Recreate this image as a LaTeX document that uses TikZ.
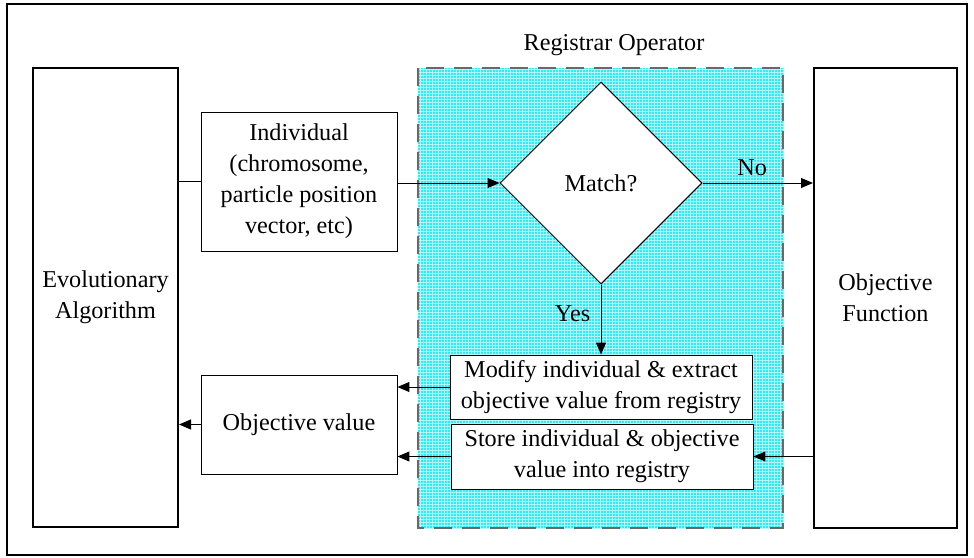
\documentclass[tikz,border=0pt]{standalone}
\usepackage{fontspec}
\setmainfont{Liberation Serif}
\newfontfamily\tnr{Liberation Serif}
\usetikzlibrary{shapes.geometric,arrows.meta}
\definecolor{regfill}{RGB}{45,236,246}
\definecolor{reggrid}{RGB}{175,248,251}
\definecolor{regborder}{RGB}{105,105,105}
\begin{document}
\begin{tikzpicture}[x=1pt,y=-1pt,
  every node/.style={font=\tnr\fontsize{24.2}{31}\selectfont},
  box/.style={draw, line width=0.9pt, align=center, inner sep=0pt, fill=white},
  bigbox/.style={draw, line width=2pt, align=center, inner sep=0pt},
  arr/.style={-{Triangle[length=12pt,width=10pt]}, line width=1pt},
  plain/.style={line width=1pt}]
\useasboundingbox (0,0) rectangle (974,557);
\draw[line width=2pt] (7,4) rectangle (967,555);
% registrar region
\fill[regfill] (418,68) rectangle (783,528);
\draw[reggrid, line width=0.5pt, step=3pt] (418,68) grid (783,528);
\draw[regborder, line width=1.8pt, dash pattern=on 18pt off 10pt] (418,68) rectangle (783,528);
\node (reglabel) at (614,45) {Registrar Operator};
% nodes
\node[bigbox, minimum width=145pt, minimum height=459pt] (ea) at (105.5,297.5) {Evolutionary\\Algorithm};
\node[bigbox, minimum width=143pt, minimum height=460pt] (of) at (885.5,298) {Objective\\Function};
\node[box, minimum width=196pt, minimum height=139pt] (ind) at (299,181.5) {Individual\\(chromosome,\\particle position\\vector, etc)};
\node[box, minimum width=196pt, minimum height=99pt] (ov) at (299,424.5) {Objective value};
\node[draw, shape=diamond, fill=white, line width=1pt, minimum width=202pt, minimum height=202pt, inner sep=0pt] (match) at (601,183) {Match?};
\node[box, minimum width=302pt, minimum height=64pt] (mod) at (601,387) {Modify individual \& extract\\objective value from registry};
\node[box, minimum width=302pt, minimum height=65pt] (store) at (602,456.5) {Store individual \& objective\\value into registry};
% connectors
\draw[plain] (ea.east |- ind.west) -- (ind.west);
\draw[arr] (ind.east |- match.west) -- (match.west);
\draw[arr] (match.east) -- node[above=3pt, pos=0.45] (nolab) {No} (match.east -| of.west);
\draw[arr] (match.south) -- node[left=7pt, pos=0.42] (yeslab) {Yes} (match.south |- mod.north);
\draw[arr] (mod.west) -- (mod.west -| ov.east);
\draw[arr] (store.west) -- (store.west -| ov.east);
\draw[arr] (store.east -| of.west) -- (store.east);
\draw[arr] (ov.west) -- (ov.west -| ea.east);
\end{tikzpicture}
\end{document}
